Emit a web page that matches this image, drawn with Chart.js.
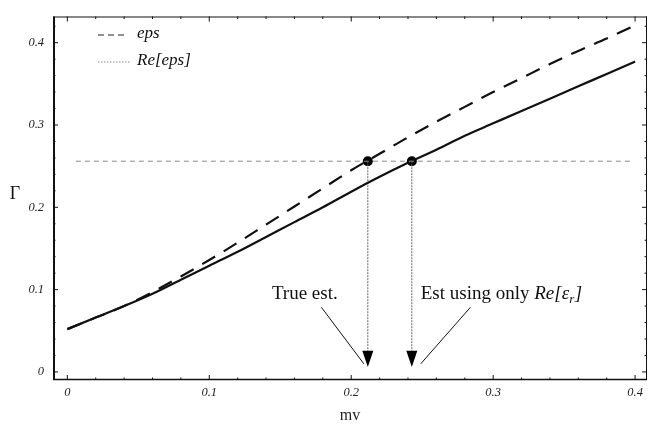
<!DOCTYPE html>
<html><head><meta charset="utf-8">
<script src="https://cdn.jsdelivr.net/npm/chart.js@4/dist/chart.umd.min.js"></script>
<style>html,body{margin:0;padding:0;background:#fff}#wrap{width:652px;height:426px;position:relative}</style>
</head><body><div id="wrap"><canvas id="c" width="652" height="426"></canvas></div>
<script>
// ---- data ----
const mv = [0,0.02,0.04,0.06,0.08,0.10,0.12,0.14,0.16,0.18,0.20,0.22,0.24,0.26,0.28,0.30,0.32,0.34,0.36,0.38,0.40];
const gammaEps   = [0.052,0.066,0.080,0.097,0.116,0.136,0.157,0.179,0.201,0.223,0.245,0.265,0.285,0.304,0.322,0.340,0.357,0.374,0.390,0.405,0.421];
const gammaReEps = [0.052,0.066,0.080,0.095,0.112,0.129,0.146,0.164,0.182,0.200,0.219,0.237,0.254,0.270,0.287,0.302,0.317,0.332,0.347,0.362,0.377];
const tickValues = [0,0.1,0.2,0.3,0.4];
const tickLabels = ['0','0.1','0.2','0.3','0.4'];
const minorStep = 0.02;
const gammaTarget = 0.256;
const targetSpan = [0.006, 0.397];
const estimateMv = [0.2117, 0.2427];
const arrowTipGamma = 0.006;
const arrowBaseGamma = 0.0256;
const pointerFrom = [[0.179,0.0785],[0.284,0.0785]];
const pointerTo   = [[0.2089,0.0099],[0.249,0.0099]];
const labelAnchor = [[0.1673,0.0942],[0.249,0.0942]];
const legendLabels = ['eps','Re[eps]'];
const estLabels = ['True est.','Est using only '];
const xTitle = 'mv';
const yTitle = 'Γ';

const SERIF = "'Liberation Serif','DejaVu Serif',serif";

const datasets = [
  {data: targetSpan.map(v=>({x:v,y:gammaTarget})), borderColor:'#8a8a8a', borderWidth:1, borderDash:[5,4], pointRadius:0},
  {data: mv.map((m,i)=>({x:m,y:gammaEps[i]})), borderColor:'#111', borderWidth:2.2, borderDash:[15,10], pointRadius:0, cubicInterpolationMode:'monotone'},
  {data: mv.map((m,i)=>({x:m,y:gammaReEps[i]})), borderColor:'#111', borderWidth:2.2, pointRadius:0, cubicInterpolationMode:'monotone'},
];
estimateMv.forEach(e=>{
  datasets.push({data:[{x:e,y:gammaTarget},{x:e,y:arrowBaseGamma}], borderColor:'#666', borderWidth:1, borderDash:[2,1], pointRadius:0});
});
pointerFrom.forEach((p,i)=>{
  datasets.push({data:[{x:p[0],y:p[1]},{x:pointerTo[i][0],y:pointerTo[i][1]}], borderColor:'#111', borderWidth:1, pointRadius:0});
});
datasets.push({data: estimateMv.map(e=>({x:e,y:gammaTarget})), showLine:false, pointRadius:5, pointBackgroundColor:'#000', pointBorderColor:'#000', pointBorderWidth:0});

function seg(ctx,x1,y1,x2,y2){ctx.beginPath();ctx.moveTo(x1,y1);ctx.lineTo(x2,y2);ctx.stroke();}

const decor = {
  id:'decor',
  afterDatasetsDraw(chart){
    const {ctx, chartArea:a, scales:{x,y}} = chart;
    ctx.save();
    ctx.strokeStyle='#111'; ctx.setLineDash([]);
    // frame
    ctx.lineWidth=1;
    seg(ctx,a.left,a.top+0.5,a.right,a.top+0.5);
    seg(ctx,a.right-0.5,a.top,a.right-0.5,a.bottom);
    ctx.lineWidth=2;
    seg(ctx,a.left+1,a.top,a.left+1,a.bottom);
    ctx.lineWidth=1.6;
    seg(ctx,a.left,a.bottom-0.5,a.right,a.bottom-0.5);
    // ticks
    ctx.lineWidth=1;
    for(let k=Math.ceil(x.min/minorStep-1e-9);k*minorStep<=x.max+1e-9;k++){
      const px=x.getPixelForValue(k*minorStep); const L=(k%5===0)?5:2.5;
      seg(ctx,px,a.bottom,px,a.bottom-L); seg(ctx,px,a.top,px,a.top+L);
    }
    for(let k=Math.ceil(y.min/minorStep-1e-9);k*minorStep<=y.max+1e-9;k++){
      const py=y.getPixelForValue(k*minorStep); const L=(k%5===0)?5:2.5;
      seg(ctx,a.left,py,a.left+L,py); seg(ctx,a.right,py,a.right-L,py);
    }
    // arrowheads
    ctx.fillStyle='#000';
    estimateMv.forEach(e=>{
      const px=x.getPixelForValue(e), tip=y.getPixelForValue(arrowTipGamma), base=y.getPixelForValue(arrowBaseGamma);
      ctx.beginPath(); ctx.moveTo(px-5.5,base); ctx.lineTo(px+5.5,base); ctx.lineTo(px,tip); ctx.closePath(); ctx.fill();
    });
    // annotation labels
    ctx.fillStyle='#111'; ctx.textBaseline='middle';
    ctx.font="19px "+SERIF; ctx.textAlign='center';
    ctx.fillText(estLabels[0], x.getPixelForValue(labelAnchor[0][0]), y.getPixelForValue(labelAnchor[0][1]));
    ctx.textAlign='left';
    let tx=x.getPixelForValue(labelAnchor[1][0]); const ty=y.getPixelForValue(labelAnchor[1][1]);
    ctx.fillText(estLabels[1], tx, ty); tx+=ctx.measureText(estLabels[1]).width;
    ctx.font="italic 19px "+SERIF; ctx.fillText('Re[ε', tx, ty); tx+=ctx.measureText('Re[ε').width;
    ctx.font="italic 13px "+SERIF; ctx.fillText('r', tx, ty+5); tx+=ctx.measureText('r').width+0.5;
    ctx.font="italic 19px "+SERIF; ctx.fillText(']', tx, ty);
    // legend
    ctx.strokeStyle='#222'; ctx.lineWidth=1.2; ctx.setLineDash([6,4]);
    seg(ctx,98,35,128,35);
    ctx.strokeStyle='#888'; ctx.lineWidth=1; ctx.setLineDash([1.5,1.5]);
    seg(ctx,98,62,131,62);
    ctx.setLineDash([]);
    ctx.font="italic 17px "+SERIF; ctx.fillStyle='#111';
    ctx.fillText(legendLabels[0],137,34);
    ctx.fillText(legendLabels[1],137,61);
    // y title
    ctx.font="18px "+SERIF; ctx.textAlign='center';
    ctx.fillText(yTitle,15,194);
    ctx.restore();
  }
};

new Chart(document.getElementById('c'),{
  type:'line',
  data:{datasets},
  options:{
    responsive:false, animation:false, events:[],
    layout:{padding:{top:5,right:1,left:0,bottom:0}},
    plugins:{legend:{display:false},tooltip:{enabled:false}},
    scales:{
      x:{type:'linear',min:-0.0101,max:0.4084,
        grid:{display:false,drawTicks:false},border:{display:false},
        afterBuildTicks:s=>{s.ticks=tickValues.map(v=>({value:v}));},
        afterFit:s=>{s.height=46;},
        ticks:{autoSkip:false,maxRotation:0,padding:5,color:'#222',font:{family:SERIF,size:12.5,style:'italic'},callback:(v,i)=>tickLabels[i]},
        title:{display:true,text:xTitle,color:'#222',font:{family:SERIF,size:16},padding:{top:0,bottom:1}}
      },
      y:{type:'linear',min:-0.0098,max:0.4318,
        grid:{display:false,drawTicks:false},border:{display:false},
        afterBuildTicks:s=>{s.ticks=tickValues.map(v=>({value:v}));},
        afterFit:s=>{s.width=53;},
        ticks:{autoSkip:false,padding:9,color:'#222',font:{family:SERIF,size:12.5,style:'italic'},callback:(v,i)=>tickLabels[i]}
      }
    }
  },
  plugins:[decor]
});
</script></body></html>
